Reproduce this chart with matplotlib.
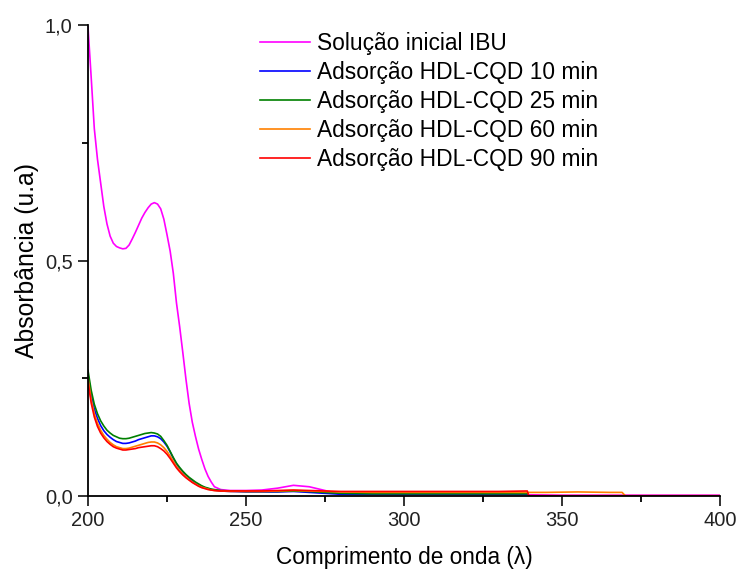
import matplotlib
matplotlib.use('Agg')
import matplotlib.pyplot as plt
from matplotlib.ticker import MultipleLocator, FixedLocator, FixedFormatter

plt.rcParams['font.family'] = ['Liberation Sans', 'DejaVu Sans']

# Comprimento de onda (nm) - grade comum
wl = [200, 201, 202, 203, 204, 205, 206, 207, 208, 209, 210, 211, 212, 213, 214,
      215, 216, 217, 218, 219, 220, 221, 222, 223, 224, 225, 226, 227, 228, 229,
      230, 231, 232, 233, 234, 235, 236, 237, 238, 239, 240, 242, 245, 250, 255,
      260, 265, 270, 275, 280, 290, 300, 310, 320, 330, 339]

# Solução inicial IBU
wl_ibu = wl + [350, 370, 400]
abs_ibu = [0.996, 0.89, 0.78, 0.715, 0.665, 0.615, 0.578, 0.552, 0.537, 0.530,
           0.527, 0.525, 0.526, 0.533, 0.546, 0.560, 0.575, 0.590, 0.602, 0.612,
           0.620, 0.623, 0.620, 0.610, 0.588, 0.555, 0.520, 0.473, 0.410, 0.360,
           0.305, 0.248, 0.197, 0.157, 0.127, 0.100, 0.078, 0.058, 0.042, 0.030,
           0.020, 0.014, 0.012, 0.012, 0.013, 0.017, 0.023, 0.020, 0.012, 0.004,
           0.003, 0.003, 0.003, 0.003, 0.003, 0.003, 0.002, 0.002, 0.002]

# Adsorção 10 min
abs_10 = [0.257, 0.215, 0.185, 0.165, 0.150, 0.139, 0.131, 0.125, 0.120, 0.116,
          0.114, 0.112, 0.112, 0.113, 0.115, 0.117, 0.120, 0.122, 0.124, 0.126,
          0.128, 0.128, 0.126, 0.122, 0.115, 0.106, 0.094, 0.080, 0.068, 0.059,
          0.051, 0.044, 0.038, 0.033, 0.028, 0.024, 0.021, 0.018, 0.016, 0.014,
          0.013, 0.011, 0.010, 0.009, 0.009, 0.009, 0.010, 0.008, 0.006, 0.004,
          0.004, 0.004, 0.004, 0.004, 0.004, 0.004]

# Adsorção 25 min
abs_25 = [0.267, 0.225, 0.195, 0.175, 0.160, 0.149, 0.140, 0.134, 0.129, 0.126,
          0.123, 0.122, 0.122, 0.123, 0.125, 0.127, 0.129, 0.131, 0.133, 0.134,
          0.135, 0.134, 0.132, 0.127, 0.118, 0.108, 0.095, 0.082, 0.070, 0.061,
          0.053, 0.046, 0.040, 0.035, 0.030, 0.026, 0.022, 0.019, 0.017, 0.015,
          0.014, 0.012, 0.011, 0.010, 0.010, 0.010, 0.011, 0.010, 0.008, 0.006,
          0.005, 0.005, 0.005, 0.005, 0.005, 0.005]

# Adsorção 60 min
wl_60 = wl + [345, 355, 365, 369, 370]
abs_60 = [0.250, 0.205, 0.175, 0.155, 0.140, 0.129, 0.121, 0.114, 0.109, 0.105,
          0.103, 0.101, 0.101, 0.102, 0.104, 0.106, 0.108, 0.110, 0.112, 0.114,
          0.115, 0.115, 0.113, 0.109, 0.103, 0.095, 0.085, 0.074, 0.063, 0.055,
          0.047, 0.041, 0.035, 0.030, 0.026, 0.022, 0.019, 0.017, 0.015, 0.013,
          0.012, 0.011, 0.010, 0.010, 0.010, 0.011, 0.012, 0.011, 0.010, 0.009,
          0.008, 0.008, 0.008, 0.008, 0.008, 0.008, 0.008, 0.009, 0.008, 0.008,
          0.001]

# Adsorção 90 min
wl_90 = wl + [339.5, 350, 370, 400]
abs_90 = [0.243, 0.198, 0.168, 0.148, 0.134, 0.124, 0.116, 0.110, 0.105, 0.102,
          0.100, 0.098, 0.098, 0.099, 0.100, 0.101, 0.103, 0.104, 0.105, 0.106,
          0.107, 0.107, 0.105, 0.101, 0.096, 0.089, 0.080, 0.070, 0.060, 0.052,
          0.045, 0.039, 0.034, 0.029, 0.025, 0.021, 0.018, 0.016, 0.014, 0.013,
          0.012, 0.011, 0.011, 0.011, 0.011, 0.012, 0.013, 0.012, 0.011, 0.010,
          0.010, 0.010, 0.010, 0.010, 0.010, 0.011, 0.001, 0.001, 0.001, 0.001]

series = [
    (wl_ibu, abs_ibu, '#FF00FF', 'Solução inicial IBU'),
    (wl, abs_10, '#0000FF', 'Adsorção HDL-CQD 10 min'),
    (wl, abs_25, '#008000', 'Adsorção HDL-CQD 25 min'),
    (wl_60, abs_60, '#FF8000', 'Adsorção HDL-CQD 60 min'),
    (wl_90, abs_90, '#FF0000', 'Adsorção HDL-CQD 90 min'),
]

fig = plt.figure(figsize=(7.37, 5.69), dpi=100)
ax = fig.add_axes([0.1194, 0.128, 0.8576, 0.828])

for x, y, cor, nome in series:
    ax.plot(x, y, color=cor, lw=1.2, label=nome)

ax.set_xlim(200, 400)
ax.set_ylim(0, 1.0)
ax.spines['top'].set_visible(False)
ax.spines['right'].set_visible(False)
ax.spines['left'].set_linewidth(1.3)
ax.spines['bottom'].set_linewidth(1.3)

ax.xaxis.set_major_locator(MultipleLocator(50))
ax.xaxis.set_minor_locator(MultipleLocator(25))
ax.yaxis.set_major_locator(FixedLocator([0.0, 0.5, 1.0]))
ax.yaxis.set_major_formatter(FixedFormatter(['0,0', '0,5', '1,0']))
ax.yaxis.set_minor_locator(FixedLocator([0.25, 0.75]))
ax.tick_params(which='major', direction='out', length=7, width=1.3, labelsize=14.5,
               colors='#222222', pad=4)
ax.tick_params(which='minor', direction='out', length=4, width=1.3)

ax.set_xlabel('Comprimento de onda (λ)', fontsize=16.3, labelpad=11)
ax.set_ylabel('Absorbância (u.a)', fontsize=17.8, labelpad=4)

ax.legend(loc='upper left', bbox_to_anchor=(0.258, 1.005), frameon=False, fontsize=16.4,
          handlelength=2.2, handletextpad=0.3, labelspacing=0.27, borderaxespad=0)

fig.savefig('out.png', dpi=100)
